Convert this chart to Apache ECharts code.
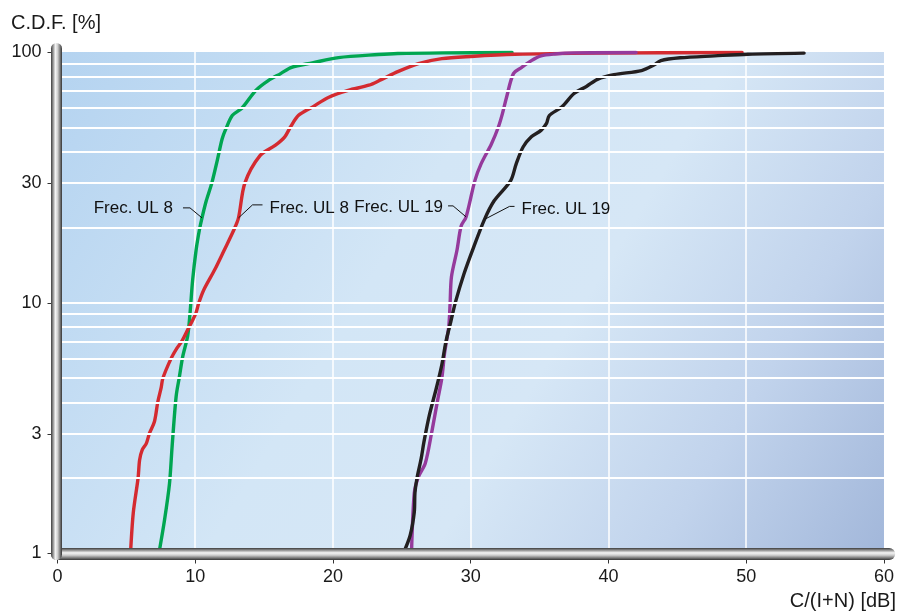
<!DOCTYPE html>
<html><head><meta charset="utf-8">
<script src="https://cdn.jsdelivr.net/npm/echarts@6/dist/echarts.min.js"></script>
<style>html,body{margin:0;padding:0;background:#fff}#c{width:897px;height:611px}</style>
</head><body><div id="c"></div>
<script>
// ---- data ----
const xTickValues = [0, 10, 20, 30, 40, 50, 60];
const yTickLabels = [1, 3, 10, 30, 100];
const yGridValues = [2, 3, 4, 5, 6, 7, 8, 9, 10, 20, 30, 40, 50, 60, 70, 80, 90];
const seriesNames = ['Frec. UL 8 (a)', 'Frec. UL 8 (b)', 'Frec. UL 19 (a)', 'Frec. UL 19 (b)'];
const seriesColors = ['#00a651', '#d42a30', '#953a9c', '#231f20'];

const greenUL8 = [[7.36,1],[7.77,1.36],[8.13,1.9],[8.32,2.67],[8.61,4.22],[8.85,5.07],[9.09,6.1],[9.45,7.37],[9.62,9.07],[9.81,12.3],[10.06,16.2],[10.3,19.5],[10.49,21.8],[10.8,25.5],[11.2,30],[11.6,37],[11.95,45],[12.2,49],[12.7,55.9],[13.4,59.8],[14.4,70.3],[15.3,76.9],[16.2,82],[17.0,86.9],[18.5,90.5],[20.4,95],[23.3,97.7],[24.7,98.6],[28,99.2],[33,99.5]];

const redUL8 = [[5.3,1],[5.5,1.45],[5.85,2],[5.96,2.36],[6.15,2.59],[6.45,2.75],[6.68,3.02],[7.04,3.36],[7.28,4.02],[7.53,4.6],[7.65,5.0],[8.25,6.0],[8.66,6.58],[9.04,7.04],[9.45,7.8],[9.8,8.5],[10.05,9.1],[10.25,9.95],[10.6,11.2],[11.4,13.5],[12.1,16.2],[12.8,19.5],[13.14,21.8],[13.6,30],[14.7,38.6],[15.8,42.4],[16.5,45.9],[16.9,50.1],[17.5,55.9],[18.5,60.3],[19.7,66],[21.1,70.3],[22.6,73.7],[23.5,77.6],[24.7,83.5],[26.2,89.9],[27.9,94.1],[30,96],[33.2,97.9],[39.2,99],[49.7,99.5]];

const purpleUL19 = [[25.7,1],[25.9,1.74],[26.2,2.02],[26.7,2.29],[27.15,3.01],[27.6,4.1],[27.9,5.0],[28.1,6.3],[28.4,8.0],[28.5,9.9],[28.6,12.7],[29.0,16.2],[29.3,20.2],[29.66,22],[30.3,30.7],[30.75,35.8],[31.5,43],[32.0,50.1],[32.3,56.8],[32.6,66],[33.1,82],[33.7,86.9],[34.4,92.4],[35.1,96.5],[36.1,98.2],[37.5,99.2],[42,99.5]];

const blackUL19 = [[25.1,1],[25.6,1.18],[25.9,1.46],[25.95,1.75],[26.1,2],[26.4,2.39],[26.6,2.78],[27.0,3.57],[27.5,4.56],[27.9,5.66],[28.2,7.0],[28.55,8.4],[28.9,10.1],[29.5,13],[30.2,16.6],[31.0,21.5],[31.7,25.5],[32.9,30.7],[33.3,35.8],[33.8,41.8],[34.4,45.9],[35.1,48.7],[35.5,51.9],[35.7,55.8],[36.6,60.3],[37.5,68.3],[38.4,72.9],[39.2,77.8],[40.4,81.2],[42.4,84.3],[43.3,88.7],[43.8,92.4],[45.2,94.8],[47.7,96.5],[50.1,98],[54.2,99]];

const labelTexts = ['Frec. UL 8', 'Frec. UL 8', 'Frec. UL 19', 'Frec. UL 19'];
const labelAnchors = [[10.49, 21.8], [13.14, 21.8], [29.66, 22], [31.0, 21.5]];

// ---- layout ----
const FONT = '"Liberation Sans", Arial, Helvetica, sans-serif';
const G = { left: 57.5, top: 52, right: 897 - 887.7, bottom: 611 - 553.5 };

const chart = echarts.init(document.getElementById('c'), null, { renderer: 'canvas' });

const curves = [greenUL8, redUL8, purpleUL19, blackUL19].map((d, i) => ({
  name: seriesNames[i], type: 'line', data: d, smooth: 0.3, showSymbol: false, symbol: 'none',
  lineStyle: { color: seriesColors[i], width: 3.4, cap: 'round', join: 'round' },
  z: 3, silent: true, animation: false
}));

const gridLineSeries = {
  name: 'grid', type: 'line', data: [[0, 1]], showSymbol: false, symbol: 'none', z: 1, silent: true,
  lineStyle: { width: 0 },
  markLine: {
    silent: true, symbol: ['none', 'none'], animation: false,
    label: { show: false },
    lineStyle: { color: '#ffffff', width: 2, type: 'solid' },
    emphasis: { disabled: true },
    data: yGridValues.map(v => ({ yAxis: v }))
  }
};

chart.setOption({
  animation: false,
  grid: {
    left: G.left, top: G.top, right: G.right, bottom: G.bottom, show: true, borderWidth: 0,
    backgroundColor: new echarts.graphic.LinearGradient(0, 0, 1, 1, [
      { offset: 0, color: '#b4d3f0' },
      { offset: 0.4, color: '#d3e6f6' },
      { offset: 0.6, color: '#d6e7f6' },
      { offset: 0.8, color: '#c1d3ec' },
      { offset: 1, color: '#a2b7da' }
    ])
  },
  xAxis: {
    type: 'value', min: 0, max: 60, interval: 10,
    axisLine: { show: false },
    axisTick: { show: true, length: 10, lineStyle: { color: '#333', width: 1 } },
    axisLabel: { margin: 15, color: '#1a1a1a', fontSize: 18, fontFamily: FONT },
    splitLine: { show: true, lineStyle: { color: ['rgba(0,0,0,0)', '#fff', '#fff', '#fff', '#fff', '#fff', 'rgba(0,0,0,0)'], width: 1.5 } }
  },
  yAxis: {
    type: 'log', logBase: 10, min: 1, max: 100,
    axisLine: { show: false },
    axisTick: { show: true, length: 10, customValues: yTickLabels, lineStyle: { color: '#333', width: 1 } },
    axisLabel: { margin: 16, color: '#1a1a1a', fontSize: 18, fontFamily: FONT, customValues: yTickLabels, padding: [5, 0, 0, 0] },
    splitLine: { show: false }
  },
  series: [gridLineSeries].concat(curves)
});

// tubes, axis names, annotations
function buildGraphic() {
  const gl = G.left, gt = G.top, gr = 897 - G.right, gb = 611 - G.bottom;
  const tubeStopsH = [
    { offset: 0, color: '#3c3c3c' }, { offset: 0.18, color: '#8e8e8e' }, { offset: 0.4, color: '#f4f4f4' },
    { offset: 0.6, color: '#cfcfcf' }, { offset: 0.82, color: '#7c7c7c' }, { offset: 1, color: '#353535' }
  ];
  const els = [
    { type: 'rect', z: 100, silent: true,
      shape: { x: gl - 6.5, y: gb - 5.5, width: (gr + 7.5) - (gl - 6.5), height: 12, r: 6 },
      style: { fill: new echarts.graphic.LinearGradient(0, 0, 0, 1, tubeStopsH) } },
    { type: 'rect', z: 101, silent: true,
      shape: { x: gl - 6.5, y: gt - 9, width: 11, height: (gb + 6.5) - (gt - 9), r: 5.5 },
      style: { fill: new echarts.graphic.LinearGradient(0, 0, 1, 0, tubeStopsH) } },
    { type: 'text', z: 102, silent: true,
      style: { text: 'C.D.F. [%]', x: 11, y: 23, font: '20px ' + FONT, fill: '#1a1a1a', align: 'left', verticalAlign: 'middle' } },
    { type: 'text', z: 102, silent: true,
      style: { text: 'C/(I+N) [dB]', x: 896, y: 601, font: '20px ' + FONT, fill: '#1a1a1a', align: 'right', verticalAlign: 'middle' } }
  ];
  // annotation leader offsets (pixels relative to anchor on curve)
  const leaders = [
    { pts: [[0, 0], [-12, -10], [-19, -10]], tx: -29, align: 'right' },
    { pts: [[0, 0], [14, -13], [24, -13]], tx: 31, align: 'left' },
    { pts: [[0, 0], [-13, -11], [-18, -11]], tx: -23, align: 'right' },
    { pts: [[0, 0], [25, -13], [30, -13]], tx: 37, align: 'left' }
  ];
  labelAnchors.forEach((a, i) => {
    const p = chart.convertToPixel({ gridIndex: 0 }, a);
    const L = leaders[i];
    els.push({ type: 'polyline', z: 50, silent: true,
      shape: { points: L.pts.map(o => [p[0] + o[0], p[1] + o[1]]) },
      style: { stroke: '#111', lineWidth: 1, fill: null } });
    els.push({ type: 'text', z: 50, silent: true,
      style: { text: labelTexts[i], x: p[0] + L.tx, y: p[1] - 10, font: '17px ' + FONT, fill: '#111', align: L.align, verticalAlign: 'middle' } });
  });
  chart.setOption({ graphic: { elements: els } });
}
buildGraphic();
</script>
</body></html>
